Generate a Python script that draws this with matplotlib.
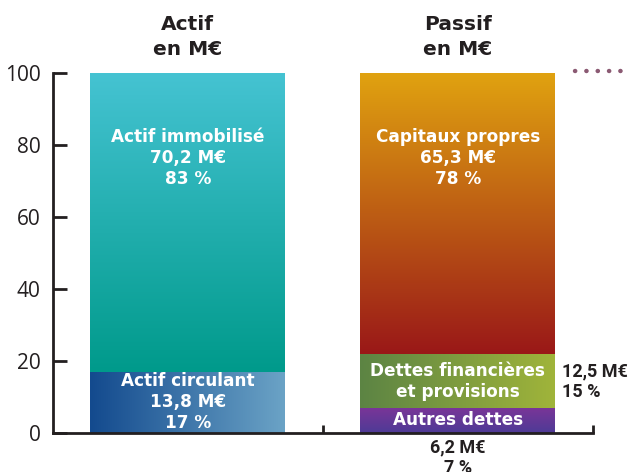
import matplotlib
matplotlib.use("Agg")
import matplotlib.pyplot as plt
import numpy as np
from matplotlib.colors import LinearSegmentedColormap
import matplotlib.transforms as mtransforms

# ---- data ----
columns = ["Actif\nen M€", "Passif\nen M€"]
actif_labels = ["Actif circulant", "Actif immobilisé"]
actif_values = [17, 83]            # percent
actif_meur = ["13,8 M€", "70,2 M€"]
passif_labels = ["Autres dettes", "Dettes financières\net provisions", "Capitaux propres"]
passif_values = [7, 15, 78]        # percent
passif_meur = ["6,2 M€", "12,5 M€", "65,3 M€"]
yticks = [0, 20, 40, 60, 80, 100]

# gradient styles: (color_a, color_b, direction)  'v' = top->bottom, 'h' = left->right
actif_grad = [("#134A8E", "#6BA3C6", "h"), ("#45C3D2", "#009A8B", "v")]
passif_grad = [("#7B3598", "#4E3B96", "v"), ("#5C8444", "#A0B43A", "h"), ("#E0A210", "#9A1818", "v")]

dark = "#231F20"
label_font = ["DejaVu Sans"]
title_font = ["DejaVu Sans"]
out_font = ["Roboto", "DejaVu Sans"]
tick_font = ["Open Sans", "DejaVu Sans"]

fig = plt.figure(figsize=(6.29, 4.72), dpi=100)
W, H = 629, 472
x0_px, y0_px, y100_px = 53, 433, 73
ax = fig.add_axes([x0_px / W, 1 - y0_px / H, (W - x0_px) / W, (y0_px - y100_px) / H])

bar_w = 195 / 270
ax.set_xlim(-0.5, (W - 187.5) / 270)
ax.set_ylim(0, 100)


def gradient_bar(x, bottom, height, spec):
    c1, c2, d = spec
    bars = ax.bar(x, height, bottom=bottom, width=bar_w, color="none", linewidth=0, zorder=2)
    patch = bars[0]
    bb = patch.get_bbox()
    cmap = LinearSegmentedColormap.from_list("g", [c1, c2])
    if d == "h":
        arr = np.linspace(0, 1, 256).reshape(1, -1)
        origin = "lower"
    else:
        arr = np.linspace(0, 1, 256).reshape(-1, 1)
        origin = "upper"
    im = ax.imshow(arr, cmap=cmap, aspect="auto", origin=origin,
                   extent=[bb.x0, bb.x1, bb.y0, bb.y1], zorder=2, interpolation="bilinear")
    im.set_clip_path(patch)
    return bb


txt_kw = dict(color="white", fontsize=12.2, fontweight="bold", family=label_font,
              ha="center", va="center", zorder=5, linespacing=1.22)

# Actif column
bottom = 0
for v, spec in zip(actif_values, actif_grad):
    gradient_bar(0, bottom, v, spec)
    bottom += v
# Passif column
bottom = 0
for v, spec in zip(passif_values, passif_grad):
    gradient_bar(1, bottom, v, spec)
    bottom += v

ax.set_xlim(-0.5, (W - 187.5) / 270)
ax.set_ylim(0, 100)

# labels inside Actif
ax.text(0, 8.6,
        f"{actif_labels[0]}\n{actif_meur[0]}\n{actif_values[0]} %", **txt_kw)
ax.text(0, 76.4,
        f"{actif_labels[1]}\n{actif_meur[1]}\n{actif_values[1]} %", **txt_kw)
# labels inside Passif
ax.text(1, 3.6, passif_labels[0], **txt_kw)
ax.text(1, 14.3, passif_labels[1], **txt_kw)
ax.text(1, 76.4,
        f"{passif_labels[2]}\n{passif_meur[2]}\n{passif_values[2]} %", **txt_kw)

# outside annotations
out_kw = dict(color=dark, fontsize=13, fontweight="bold", family=out_font,
              linespacing=1.15, zorder=5, clip_on=False)
ax.text(1 + bar_w / 2 + 0.025, 14.2,
        f"{passif_meur[1]}\n{passif_values[1]} %", ha="left", va="center", **out_kw)
ax.text(1, -1.6, f"{passif_meur[0]}\n{passif_values[0]} %", ha="center", va="top", **out_kw)

# column titles
for i, c in enumerate(columns):
    ax.text(i, 104.0, c, ha="center", va="bottom", color=dark, fontsize=14.5,
            fontweight="bold", family=title_font, linespacing=1.35, clip_on=False)

# dotted decoration top right
ax.plot([(575 - 187.5) / 270, (W - 187.5) / 270], [100.6, 100.6], linestyle=(0, (0.05, 2.5)),
        color="#8B5A73", linewidth=3.2, dash_capstyle="round", clip_on=False, zorder=3)

# axes styling
for s in ["top", "right"]:
    ax.spines[s].set_visible(False)
for s in ["left", "bottom"]:
    ax.spines[s].set_color(dark)
    ax.spines[s].set_linewidth(2.0)
ax.spines["bottom"].set_bounds(-0.5, 1.5)
ax.spines["left"].set_bounds(0, 100)
ax.set_yticks(yticks)
ax.set_yticklabels([str(t) for t in yticks], family=tick_font, fontsize=15, color=dark)
ax.tick_params(axis="y", direction="in", length=10, width=2.0, color=dark, pad=-2)
for lab in ax.get_yticklabels():
    lab.set_horizontalalignment("right")
ax.set_xticks([0.5, 1.5])
ax.set_xticklabels([])
ax.tick_params(axis="x", direction="in", length=6, width=2.0, color=dark)
ax.patch.set_alpha(0)

# move y tick labels to left of spine
offset = mtransforms.ScaledTranslation(-11 / 72, 0, fig.dpi_scale_trans)
for lab in ax.get_yticklabels():
    lab.set_transform(lab.get_transform() + offset)

fig.savefig("out.png", dpi=100)
